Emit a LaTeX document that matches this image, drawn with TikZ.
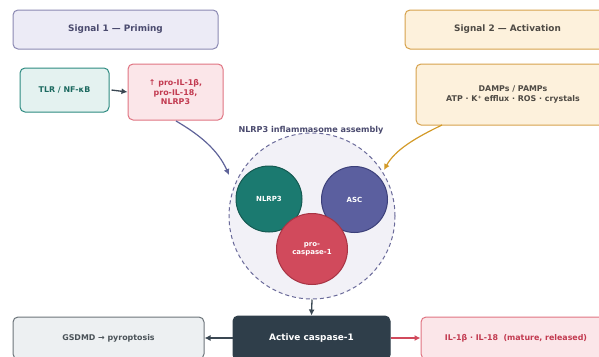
\documentclass[tikz,border=0pt]{standalone}
\usepackage{fontspec}
\setmainfont{DejaVu Sans}
\usetikzlibrary{arrows.meta}
\definecolor{lavfill}{HTML}{ECEBF6}
\definecolor{lavline}{HTML}{8A88B2}
\definecolor{lavtext}{HTML}{4A4A6E}
\definecolor{ambfill}{HTML}{FDF1DC}
\definecolor{ambline}{HTML}{D6A24C}
\definecolor{ambtext}{HTML}{4E4A44}
\definecolor{tealfill}{HTML}{E4F2F0}
\definecolor{tealline}{HTML}{2C8A80}
\definecolor{tealtext}{HTML}{1C6A60}
\definecolor{rosefill}{HTML}{FBE6E9}
\definecolor{roseline}{HTML}{E07482}
\definecolor{rosetext}{HTML}{C23A50}
\definecolor{asmfill}{HTML}{F2F1F7}
\definecolor{asmline}{HTML}{6A6A9A}
\definecolor{nlrp}{HTML}{1B7A70}
\definecolor{nlrpb}{HTML}{155A52}
\definecolor{asc}{HTML}{5B5F9F}
\definecolor{ascb}{HTML}{3C407A}
\definecolor{casp}{HTML}{D14A5C}
\definecolor{caspb}{HTML}{A83444}
\definecolor{dark}{HTML}{2F3E4A}
\definecolor{greyfill}{HTML}{EDF0F2}
\definecolor{greyline}{HTML}{6C747A}
\definecolor{greytext}{HTML}{4A5258}
\definecolor{arrdark}{HTML}{3A4752}
\definecolor{arrblue}{HTML}{5F6399}
\definecolor{arrgold}{HTML}{D39A28}
\tikzset{
  box/.style={draw, line width=1pt, rounded corners=5pt, align=center, font=\bfseries\fontsize{7.9}{9.2}\selectfont, inner sep=0pt},
  mol/.style={circle, draw, line width=1pt, text=white, align=center, font=\bfseries\fontsize{7}{8.4}\selectfont, inner sep=0pt},
  arr/.style={line width=1.3pt, -{Latex[length=6pt,width=6pt]}},
  hdr/.style={font=\bfseries\fontsize{8.9}{10.5}\selectfont},
}
\begin{document}
\begin{tikzpicture}[x=1pt,y=-1pt]
\useasboundingbox (0,0) rectangle (599,356);
\begin{scope}
\clip (0,0) rectangle (599,356);
% headers
\node[box, hdr, fill=lavfill, draw=lavline, text=lavtext, minimum width=205pt, minimum height=39pt] (s1) at (115.5,29.5) {Signal 1 — Priming};
\node[box, hdr, fill=ambfill, draw=ambline, text=ambtext, minimum width=205pt, minimum height=39pt] (s2) at (507.5,29.5) {Signal 2 — Activation};
% signal 1 row
\node[box, fill=tealfill, draw=tealline, text=tealtext, minimum width=89pt, minimum height=44pt] (tlr) at (64.5,90) {TLR / NF-κB};
\node[box, fill=rosefill, draw=roseline, text=rosetext, minimum width=95pt, minimum height=56pt] (pro) at (175.5,92) {↑ pro-IL-1β,\\pro-IL-18,\\NLRP3};
% signal 2
\node[box, fill=ambfill, draw=ambline, text=ambtext, minimum width=194pt, minimum height=61pt] (damp) at (513,94.5) {DAMPs / PAMPs\\ATP · K⁺ efflux · ROS · crystals};
% assembly
\node[circle, draw=asmline, fill=asmfill, line width=1pt, dash pattern=on 4pt off 3pt, minimum size=166pt, inner sep=0pt] (asm) at (312,216) {};
\node[font=\bfseries\fontsize{8.1}{9.5}\selectfont, text=lavtext] (asmt) at (311,130) {NLRP3 inflammasome assembly};
\node[mol, fill=nlrp, draw=nlrpb, minimum size=66pt] (nl) at (269,199) {NLRP3};
\node[mol, fill=asc, draw=ascb, minimum size=66pt] (ascn) at (354.5,199.5) {ASC};
\node[mol, fill=casp, draw=caspb, minimum size=71pt] (pc) at (312,249) {pro-\\caspase-1};
% bottom row
\node[box, hdr, fill=dark, draw=dark, text=white, minimum width=157pt, minimum height=44pt] (act) at (311.5,338) {Active caspase-1};
\node[box, fill=greyfill, draw=greyline, text=greytext, minimum width=191pt, minimum height=42pt] (gsd) at (108.5,338) {GSDMD → pyroptosis};
\node[box, fill=rosefill, draw=roseline, text=rosetext, minimum width=190pt, minimum height=42pt] (il) at (516,338) {IL-1β · IL-18~~(mature, released)};
% arrows
\draw[arr, draw=arrdark] (tlr.east) ++(2,0) coordinate (t1) -- (pro.west);
\coordinate (pa) at (176,121);
\coordinate (pb) at (229,175);
\draw[arr, draw=arrblue, line width=1.2pt] (pa) .. controls (200,135) and (218,150) .. (pb);
\coordinate (da) at (442,125);
\coordinate (db) at (384,170);
\draw[arr, draw=arrgold, line width=1.2pt] (da) .. controls (415,138) and (395,150) .. (db);
\draw[arr, draw=arrdark] (asm.south) -- (act.north);
\draw[arr, draw=arrdark] (act.west) -- (gsd.east);
\draw[arr, draw=casp] (act.east) -- (il.west);
\end{scope}
\end{tikzpicture}
\end{document}
